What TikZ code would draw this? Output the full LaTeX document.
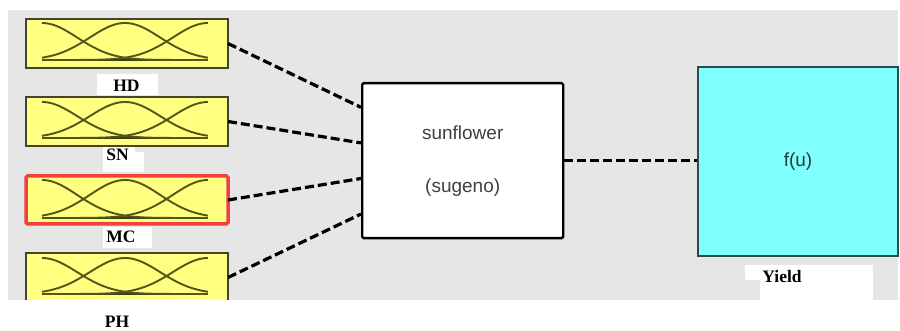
\documentclass[tikz,border=0pt]{standalone}
\usepackage{fontspec}
\usetikzlibrary{calc}
\setmainfont{Liberation Serif}
\newfontfamily\boxfont{Liberation Sans}
\definecolor{panelgray}{HTML}{E6E6E6}
\definecolor{mffill}{HTML}{FFFF80}
\definecolor{mfedge}{HTML}{45452E}
\definecolor{mfcurve}{HTML}{555518}
\definecolor{mcred}{HTML}{F04040}
\definecolor{outfill}{HTML}{80FFFF}
\definecolor{outedge}{HTML}{2E4A4A}
\definecolor{boxtext}{HTML}{404040}

\tikzset{
  inbox/.style={draw=mfedge, line width=1.8pt, fill=mffill, minimum width=202pt,
    minimum height=49pt, inner sep=0pt, outer sep=0pt, anchor=north west},
  varlabel/.style={font=\fontsize{17.5}{20}\selectfont\bfseries, inner sep=0pt},
  mf/.style={draw=mfcurve, line width=1.9pt},
  mfbase/.style={draw=mfcurve!70!black, line width=2.4pt},
  link/.style={draw=black, line width=3.2pt, dash pattern=on 9pt off 4pt},
  patch/.style={fill=white, draw=none}
}

% three Gaussian membership functions between ytop and ybot
\newcommand\gaussmfs[2]{%
  \draw[mfbase] (42,#2) -- (208,#2);
  \foreach \c in {0,0.5,1}{%
    \draw[mf] plot[domain=0:1, samples=80, smooth]
      ({42+166*\x},{#2-(#2-#1)*exp(-((\x-\c)^2)/0.0901)});
  }%
}

\begin{document}
\begin{tikzpicture}[x=1pt, y=-1pt]
\useasboundingbox (0,0) rectangle (900,331);

% panel background
\fill[panelgray] (8,10) rectangle (898,300);

% white patches behind the variable labels
\fill[patch] (97,74) rectangle (158,95);
\fill[patch] (103,146) rectangle (135,172);
\fill[patch] (135,152) rectangle (144,172);
\fill[patch] (103,227) rectangle (152,248);
\fill[patch] (745,265) rectangle (873,280);
\fill[patch] (760,265) rectangle (873,300);

% input variables
\node[inbox] (hd) at (26,19) {};
\gaussmfs{23}{60}
\node[inbox] (sn) at (26,97) {};
\gaussmfs{102}{138}
\node[inbox, draw=mcred, line width=3.5pt, rounded corners=1.5pt, minimum height=48pt] (mc) at (26,176) {};
\gaussmfs{180}{218}
\node[inbox] (ph) at (26,253) {};
\gaussmfs{258}{294}

% bottom margin hides the lower edge of the last input
\fill[white] (0,300) rectangle (900,331);

% rule block
\node[draw=black, line width=2.4pt, fill=white, rounded corners=1.5pt,
  minimum width=201pt, minimum height=155pt, inner sep=0pt, anchor=north west,
  align=center, text=boxtext, font=\boxfont\fontsize{19}{22}\selectfont]
  (fis) at (361,82) {sunflower\\[31pt](sugeno)};

% output block
\node[draw=outedge, line width=2pt, fill=outfill, minimum width=200pt,
  minimum height=189pt, inner sep=0pt, anchor=north west,
  text=outedge!80!black, font=\boxfont\fontsize{19}{22}\selectfont]
  (out) at (697,66) {f(u)};

% variable names
\node[varlabel] (hdlab) at (126.5,86) {HD};
\node[varlabel] (snlab) at (117.5,155) {SN};
\node[varlabel] (mclab) at (121,237) {MC};
\node[varlabel] (phlab) at (117,322) {PH};
\node[varlabel] (yieldlab) at (782,277) {Yield};

% connections
\draw[link] (hd.east) -- ($(fis.north west)!0.161!(fis.south west)$);
\draw[link] (sn.east) -- ($(fis.north west)!0.387!(fis.south west)$);
\draw[link] (mc.east) -- ($(fis.north west)!0.613!(fis.south west)$);
\draw[link] (ph.east) -- ($(fis.north west)!0.839!(fis.south west)$);
\draw[link] (fis.east) -- (fis.east -| out.west);
\end{tikzpicture}
\end{document}
